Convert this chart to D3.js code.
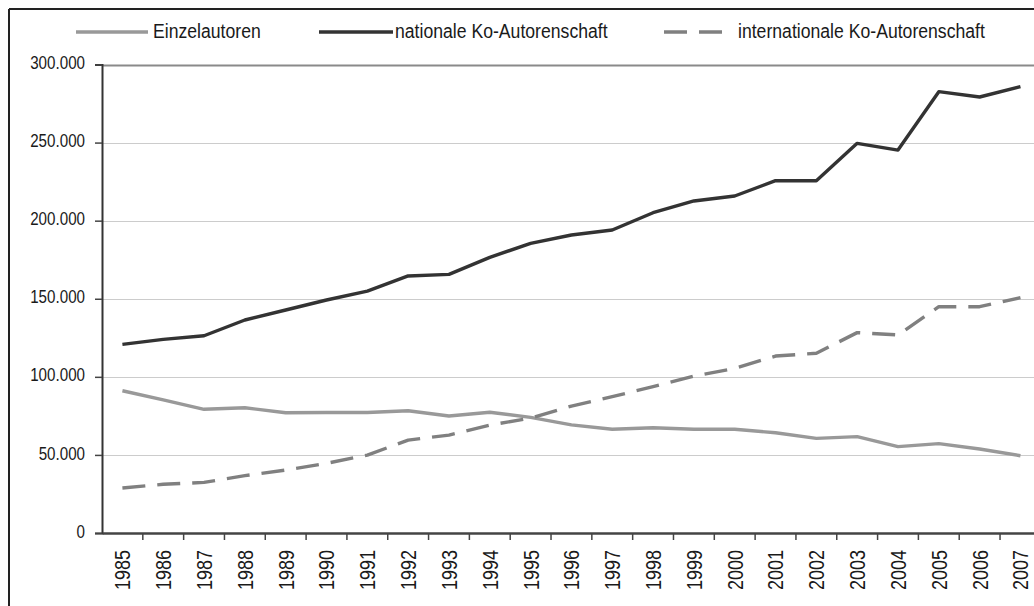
<!DOCTYPE html>
<html>
<head>
<meta charset="utf-8">
<script src="https://cdn.jsdelivr.net/npm/d3@7"></script>
<style>
    body { margin: 0; background: #fff; }
    svg { display: block; }
    text { font-family: "Liberation Sans", Arial, sans-serif; fill: #1a1a1a; }
</style>
</head>
<body>
<div id="root"></div>
<script>
// ---------------------------- DATA ----------------------------
const years = ["1985","1986","1987","1988","1989","1990","1991","1992","1993","1994","1995","1996",
    "1997","1998","1999","2000","2001","2002","2003","2004","2005","2006","2007"];

const einzelautoren = [91100, 85200, 79200, 80200, 77000, 77200, 77200, 78300, 74900, 77300, 74000, 69200,
    66400, 67400, 66400, 66400, 64200, 60600, 61700, 55300, 57200, 53800, 49500];
const nationalKo = [120800, 124000, 126300, 136400, 142800, 149200, 154900, 164600, 165600, 176500, 185500, 190800,
    194000, 205100, 212600, 215800, 225600, 225600, 249500, 245200, 282600, 279200, 285800];
const internationalKo = [28800, 31200, 32400, 36700, 40300, 44600, 49900, 59500, 62700, 69100, 73600, 81300,
    87300, 93700, 100500, 105400, 113300, 115100, 128300, 126800, 144900, 144900, 150700];

const yTicks = [0, 50000, 100000, 150000, 200000, 250000, 300000];
const seriesNames = ["Einzelautoren", "nationale Ko-Autorenschaft", "internationale Ko-Autorenschaft"];

// ---------------------------- SETUP ----------------------------
const width = 1034;
const height = 606;
const narrow = 0.82; // squeeze Liberation Sans to look like Arial Narrow
const legendNarrow = 0.84;

const series = [
    { name: seriesNames[0], values: einzelautoren, color: "#999999", dash: null },
    { name: seriesNames[1], values: nationalKo, color: "#333333", dash: null },
    { name: seriesNames[2], values: internationalKo, color: "#808080", dash: "23,12" }
];

const svg = d3.select("#root")
    .append("svg")
    .attr("width", width)
    .attr("height", height);

const x = d3.scaleBand()
    .domain(years)
    .range([102, 102 + 23 * 40.82]);

const y = d3.scaleLinear()
    .domain([0, 300000])
    .range([533, 64.5]);

const fmt = d => d === 0 ? "0" : d3.format(",")(d).replace(/,/g, ".");

// Outer frame (only top and left edges visible in the crop)
svg.append("line")
    .attr("x1", 9).attr("x2", width).attr("y1", 9).attr("y2", 9)
    .attr("stroke", "#222").attr("stroke-width", 2);
svg.append("line")
    .attr("x1", 9).attr("x2", 9).attr("y1", 9).attr("y2", height)
    .attr("stroke", "#222").attr("stroke-width", 2);

// ---------------------------- GRID AND AXES ----------------------------
svg.append("g")
    .selectAll("line")
    .data(yTicks.filter(d => d > 0))
    .enter()
    .append("line")
    .attr("x1", 102)
    .attr("x2", width)
    .attr("y1", d => Math.round(y(d)) + 0.5)
    .attr("y2", d => Math.round(y(d)) + 0.5)
    .attr("stroke", d => d === 300000 ? "#8a8a8a" : "#cccccc")
    .attr("stroke-width", d => d === 300000 ? 2 : 1);

const yAxis = svg.append("g")
    .attr("transform", "translate(102,0)")
    .call(d3.axisLeft(y).tickValues(yTicks).tickSize(7).tickFormat(fmt));
yAxis.select(".domain").attr("stroke", "#333").attr("stroke-width", 2);
yAxis.selectAll(".tick line").attr("stroke", "#444").attr("stroke-width", 1.5);
yAxis.selectAll("text")
    .attr("font-size", 18.5)
    .attr("x", -17 / narrow)
    .attr("dy", "0.22em")
    .attr("transform", `scale(${narrow},1)`)
    .attr("fill", "#1a1a1a");

const xAxis = svg.append("g")
    .attr("transform", "translate(0,533)")
    .call(d3.axisBottom(x).tickSize(0).tickPadding(0));
xAxis.select(".domain").attr("stroke", "#444").attr("stroke-width", 2.5);
xAxis.selectAll("text")
    .attr("font-size", 22)
    .attr("transform", `rotate(-90) scale(${narrow},1)`)
    .attr("text-anchor", "end")
    .attr("x", -17 / narrow)
    .attr("y", 0)
    .attr("dy", "0.36em")
    .attr("fill", "#1a1a1a");

// Ticks sit on the category boundaries
svg.append("g")
    .selectAll("line")
    .data(years.slice(1))
    .enter()
    .append("line")
    .attr("x1", d => x(d))
    .attr("x2", d => x(d))
    .attr("y1", 533)
    .attr("y2", 540)
    .attr("stroke", "#444")
    .attr("stroke-width", 1.5);

// ---------------------------- LINES ----------------------------
const line = d3.line()
    .x((d, i) => x(years[i]) + x.bandwidth() / 2)
    .y(d => y(d));

svg.append("g")
    .selectAll("path")
    .data(series)
    .enter()
    .append("path")
    .attr("d", d => line(d.values))
    .attr("fill", "none")
    .attr("stroke", d => d.color)
    .attr("stroke-width", 3.4)
    .attr("stroke-linejoin", "round")
    .attr("stroke-dasharray", d => d.dash);

// ---------------------------- LEGEND ----------------------------
const legendItems = [
    { lx1: 76, lx2: 148, tx: 153 },
    { lx1: 319, lx2: 393, tx: 395 },
    { lx1: 664, lx2: 723, tx: 738 }
];

const legend = svg.append("g");
legend.selectAll("line")
    .data(series)
    .enter()
    .append("line")
    .attr("x1", (d, i) => legendItems[i].lx1)
    .attr("x2", (d, i) => legendItems[i].lx2)
    .attr("y1", 32)
    .attr("y2", 32)
    .attr("stroke", d => d.color)
    .attr("stroke-width", 3.4)
    .attr("stroke-dasharray", d => d.dash);

legend.selectAll("text")
    .data(series)
    .enter()
    .append("text")
    .attr("transform", (d, i) => `translate(${legendItems[i].tx},38) scale(${legendNarrow},1)`)
    .attr("font-size", 21)
    .text(d => d.name);
</script>
</body>
</html>
